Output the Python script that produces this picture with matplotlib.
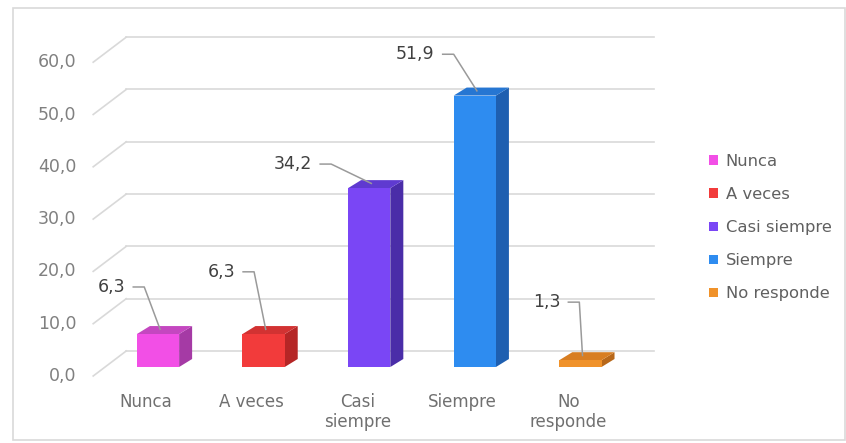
import matplotlib
matplotlib.use("Agg")
import matplotlib.pyplot as plt
from matplotlib.patches import Polygon, Rectangle, Patch
from matplotlib.lines import Line2D

# ---- data ----
categories = ["Nunca", "A veces", "Casi siempre", "Siempre", "No responde"]
axis_labels = ["Nunca", "A veces", "Casi\nsiempre", "Siempre", "No\nresponde"]
values = [6.3, 6.3, 34.2, 51.9, 1.3]
y_ticks = [0, 10, 20, 30, 40, 50, 60]

# ---- style ----
front_colors = ["#F24FE6", "#F23B3B", "#7A46F5", "#2E8CF0", "#F0922A"]
side_colors = ["#A53AA5", "#B52626", "#4A2DA8", "#1E5FB0", "#B8681A"]
top_colors = ["#C447C0", "#D23232", "#5F3AD0", "#2676D2", "#D87E22"]
label_anchor = [(-0.31, 15.3), (0.73, 18.2), (1.46, 38.8), (2.62, 59.8), (3.81, 12.4)]

W, H, DPI = 846, 443, 100
fig = plt.figure(figsize=(W / DPI, H / DPI), dpi=DPI)
fig.patch.set_facecolor("white")

# axes = plane of the bar fronts
x0_px, x1_px = 105.2, 633.2
y0_px, y1_px = 367.0, 53.2
ax = fig.add_axes([x0_px / W, (H - y0_px) / H, (x1_px - x0_px) / W, (y0_px - y1_px) / H])
ax.set_xlim(-0.5, 4.5)
ax.set_ylim(0, 60)
ax.axis("off")

sx = (x1_px - x0_px) / 5.0       # px per category
sy = (y0_px - y1_px) / 60.0      # px per unit

def px2data(dx, dy):
    return dx / sx, dy / sy

# offsets of the back wall and the front edge relative to the bar plane (px)
back = px2data(21, 16)
front = px2data(-12, -9)
depth = px2data(13, 8)

grid_col = "#D9D9D9"
for t in y_ticks:
    # back-wall gridline
    ax.add_line(Line2D([-0.5 + back[0], 4.5 + back[0]], [t + back[1], t + back[1]],
                       color=grid_col, lw=1.2, clip_on=False, zorder=1))
    # side-wall diagonal towards the front edge
    ax.add_line(Line2D([-0.5 + front[0], -0.5 + back[0]], [t + front[1], t + back[1]],
                       color=grid_col, lw=1.2, clip_on=False, zorder=1))
    ax.text(-0.5 + front[0] - 17 / sx, t + front[1], f"{t:.1f}".replace(".", ","),
            ha="right", va="center", fontsize=12.5, color="#808080")

bw = 0.4
for i, (v, fc, sc, tc) in enumerate(zip(values, front_colors, side_colors, top_colors)):
    l, r = i - bw / 2, i + bw / 2
    dx, dy = depth
    ax.add_patch(Polygon([(r, 0), (r + dx, dy), (r + dx, v + dy), (r, v)],
                         closed=True, facecolor=sc, edgecolor="none", zorder=3, clip_on=False))
    ax.add_patch(Polygon([(l, v), (r, v), (r + dx, v + dy), (l + dx, v + dy)],
                         closed=True, facecolor=tc, edgecolor="none", zorder=3, clip_on=False))
    ax.bar(i, v, width=bw, color=fc, edgecolor="none", zorder=4)

    # category label on the front edge
    ax.text(i + front[0], 0 + front[1] - 17 / sy, axis_labels[i], ha="center", va="top",
            fontsize=12, color="#707070", linespacing=1.15)

    # value label with leader line
    tx, ty = label_anchor[i]
    ax.text(tx, ty, f"{v:.1f}".replace(".", ","), ha="right", va="center",
            fontsize=12.5, color="#404040", zorder=6)
    sx0 = tx + 8 / sx
    ex = sx0 + 11 / sx
    ax.add_line(Line2D([sx0, ex, i + 0.02], [ty, ty, v + 0.9],
                       color="#9A9A9A", lw=1.1, clip_on=False, zorder=6))

# legend
handles = [Patch(facecolor=c, edgecolor="none") for c in front_colors]
leg = fig.legend(handles, categories, loc="upper left", bbox_to_anchor=(701 / W, 1 - 146 / H),
                 frameon=False, fontsize=11.8, labelcolor="#606060", handlelength=0.55,
                 handleheight=0.55, handletextpad=0.45, labelspacing=1.1, borderpad=0)

# outer chart frame
fig.add_artist(Rectangle((13 / W, 3 / H), (W - 14) / W, (H - 11) / H, transform=fig.transFigure,
                         fill=False, edgecolor="#D9D9D9", lw=1.2))

fig.savefig("out.png", dpi=DPI, facecolor="white")
